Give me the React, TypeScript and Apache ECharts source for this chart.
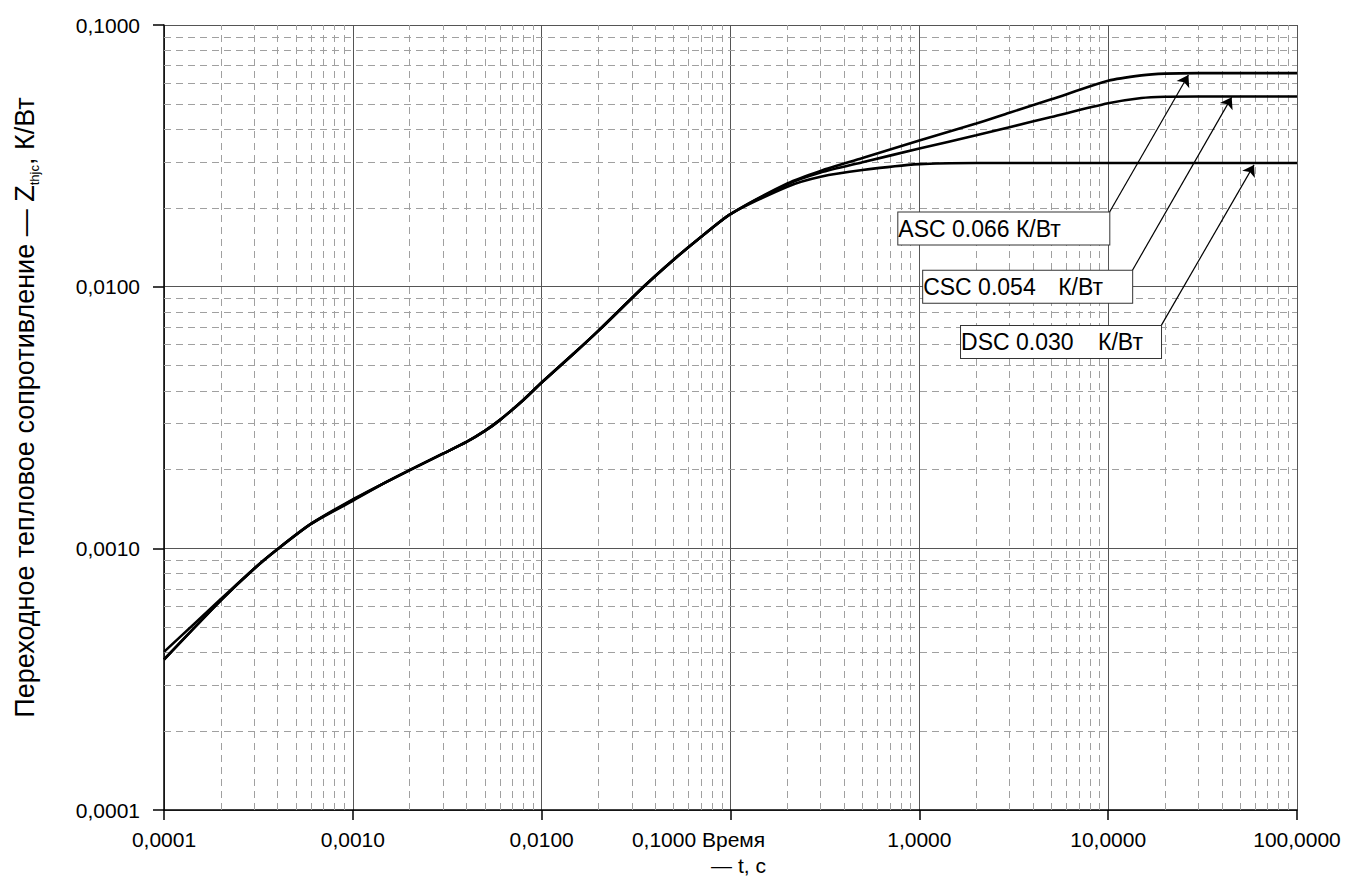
import React, { useEffect, useRef } from "react";
import * as echarts from "echarts";

// ---- Data ----
const T = [0.0001, 0.0002, 0.0003, 0.0004, 0.0006, 0.001, 0.0015, 0.002, 0.003, 0.004, 0.005, 0.006, 0.008, 0.01, 0.015, 0.02, 0.035, 0.05, 0.07, 0.1, 0.2, 0.3, 0.5, 1, 2, 3, 5, 10, 15, 20, 30, 50, 100];
const ASC = [0.000376, 0.000633, 0.000836, 0.000994, 0.00124, 0.00152, 0.00179, 0.00199, 0.0023, 0.00255, 0.00281, 0.00309, 0.00369, 0.0043, 0.0056, 0.00679, 0.01006, 0.01268, 0.01552, 0.01895, 0.0248, 0.0277, 0.031, 0.0362, 0.042, 0.0462, 0.052, 0.0612, 0.0642, 0.0652, 0.0655, 0.0655, 0.0655];
const CSC = [0.000376, 0.000633, 0.000836, 0.000994, 0.00124, 0.00153, 0.00179, 0.00199, 0.0023, 0.00255, 0.00281, 0.00309, 0.00369, 0.0043, 0.0056, 0.00679, 0.01006, 0.01268, 0.01552, 0.01895, 0.0246, 0.0273, 0.0299, 0.0337, 0.0379, 0.0407, 0.0445, 0.0502, 0.0526, 0.0532, 0.0533, 0.0533, 0.0533];
const DSC = [0.000402, 0.00064, 0.000836, 0.000994, 0.00124, 0.00154, 0.00179, 0.00199, 0.0023, 0.00255, 0.00281, 0.00309, 0.00369, 0.0043, 0.0056, 0.00679, 0.01006, 0.01268, 0.01552, 0.01895, 0.0241, 0.0263, 0.0279, 0.0294, 0.0297, 0.0297, 0.0297, 0.0297, 0.0297, 0.0297, 0.0297, 0.0297, 0.0297];

const X_TICK_LABELS = ["0,0001", "0,0010", "0,0100", "0,1000 Время", "1,0000", "10,0000", "100,0000"];
const Y_TICK_LABELS = ["0,0001", "0,0010", "0,0100", "0,1000"];

// Annotations: label, tail (box top-right corner) t/Z, arrow tip t/Z
const ANN_NAMES = ["ASC 0.066 К/Вт", "CSC 0.054", "DSC 0.030"];
const ANN_UNITS = ["", "К/Вт", "К/Вт"];
const ANN_TAIL_T = [10.14, 13.4, 19.05];
const ANN_TAIL_Z = [0.0192, 0.0115, 0.00708];
const ANN_TIP_T = [26.6, 45.1, 59.2];
const ANN_TIP_Z = [0.0644, 0.053, 0.0292];

const X_MIN = 0.0001;
const X_MAX = 100;
const Y_MIN = 0.0001;
const Y_MAX = 0.1;

const FONT = '"Liberation Sans", Arial, sans-serif';

function minorValues(lo: number, hi: number): number[] {
  const out: number[] = [];
  for (let e = lo; e < hi; e++) {
    for (let m = 2; m <= 9; m++) out.push(Number((m * Math.pow(10, e)).toPrecision(6)));
  }
  return out;
}

export default function App() {
  const ref = useRef<HTMLDivElement>(null);
  useEffect(() => {
    if (!ref.current) return;
    const chart = echarts.init(ref.current, null, { renderer: "svg" });
    const mk = (v: number[]) => v.map((z, i) => [T[i], z]);
    const curve = (name: string, vals: number[]) => ({
      name,
      type: "line",
      data: mk(vals),
      showSymbol: false,
      smooth: 0.25,
      z: 5,
      lineStyle: { color: "#000", width: 2.6 },
      silent: true,
    });
    const minorStyle = { color: "#a0a0a0", width: 1, type: [7, 5] };
    const boxWidths = [211, 209, 200];
    const nameWidths = [211, 135, 137];
    const option: any = {
      animation: false,
      grid: { left: 164, right: 50, top: 25, bottom: 83, containLabel: false },
      xAxis: {
        type: "log",
        logBase: 10,
        min: X_MIN,
        max: X_MAX,
        axisLine: { show: true, onZero: false, lineStyle: { color: "#000", width: 1.5 } },
        axisTick: { show: true, length: 10, lineStyle: { color: "#000", width: 1.5 } },
        axisLabel: {
          margin: 19,
          fontSize: 21,
          color: "#000",
          fontFamily: FONT,
          formatter: (v: number) => {
            const i = Math.round(Math.log10(v)) + 4;
            const s = X_TICK_LABELS[i] ?? "";
            return i === 3 ? "{sh|" + s + "}" : s;
          },
          rich: { sh: { fontSize: 21, fontFamily: FONT, color: "#000", padding: [0, 64, 0, 0] } },
        },
        splitLine: { show: true, lineStyle: { color: "#555", width: 1 } },
        name: "— t, с",
        nameLocation: "middle",
        nameGap: 45,
        nameTextStyle: { fontSize: 21, color: "#000", fontFamily: FONT, padding: [0, 0, 0, 16] },
      },
      yAxis: {
        type: "log",
        logBase: 10,
        min: Y_MIN,
        max: Y_MAX,
        axisLine: { show: true, onZero: false, lineStyle: { color: "#000", width: 1.5 } },
        axisTick: { show: true, length: 11, lineStyle: { color: "#000", width: 1.5 } },
        axisLabel: {
          margin: 24,
          fontSize: 21,
          color: "#000",
          fontFamily: FONT,
          formatter: (v: number) => Y_TICK_LABELS[Math.round(Math.log10(v)) + 4] ?? "",
        },
        splitLine: { show: true, lineStyle: { color: "#555", width: 1 } },
        name: "Переходное тепловое сопротивление — Z{sub|thjc}, К/Вт",
        nameLocation: "middle",
        nameGap: 123,
        nameTextStyle: {
          fontSize: 27,
          color: "#000",
          fontFamily: FONT,
          lineHeight: 33,
          padding: [0, 0, 0, 20],
          rich: { sub: { fontSize: 13, fontFamily: FONT, color: "#000", verticalAlign: "bottom", lineHeight: 13 } },
        },
      },
      series: [
        {
          type: "line",
          data: [],
          silent: true,
          z: 1,
          markLine: {
            silent: true,
            z: 1,
            symbol: ["none", "none"],
            label: { show: false },
            lineStyle: minorStyle,
            emphasis: { disabled: true },
            data: [
              ...minorValues(-4, 2).map((v) => [{ coord: [v, Y_MIN] }, { coord: [v, Y_MAX] }]),
              ...minorValues(-4, -1).map((v) => [{ coord: [X_MIN, v] }, { coord: [X_MAX, v] }]),
            ],
          },
        },
        curve("ASC", ASC),
        curve("CSC", CSC),
        curve("DSC", DSC),
        {
          type: "line",
          data: [],
          silent: true,
          z: 8,
          markLine: {
            silent: true,
            z: 8,
            symbol: ["none", "arrow"],
            symbolSize: 11,
            label: { show: false },
            emphasis: { disabled: true },
            lineStyle: { color: "#000", width: 1.2, type: "solid" },
            itemStyle: { color: "#000" },
            data: ANN_NAMES.map((_, i) => [
              { coord: [ANN_TAIL_T[i], ANN_TAIL_Z[i]] },
              { coord: [ANN_TIP_T[i], ANN_TIP_Z[i]] },
            ]),
          },
          markPoint: {
            silent: true,
            z: 9,
            symbol: "circle",
            symbolSize: 0,
            itemStyle: { color: "transparent" },
            data: ANN_NAMES.map((n, i) => ({
              coord: [ANN_TAIL_T[i], ANN_TAIL_Z[i]],
              label: {
                show: true,
                position: "left",
                distance: 0,
                offset: [-boxWidths[i], 16],
                width: boxWidths[i],
                height: 32,
                lineHeight: 32,
                padding: 0,
                align: "left",
                verticalAlign: "middle",
                backgroundColor: "#fff",
                borderColor: "#333",
                borderWidth: 1,
                color: "#000",
                fontSize: 23,
                fontFamily: FONT,
                formatter: ANN_UNITS[i] ? "{a|" + n + "}{b|" + ANN_UNITS[i] + "}" : n,
                rich: {
                  a: { width: nameWidths[i], fontSize: 23, fontFamily: FONT, color: "#000" },
                  b: { fontSize: 23, fontFamily: FONT, color: "#000" },
                },
              },
            })),
          },
        },
      ],
    };
    chart.setOption(option);
    return () => chart.dispose();
  }, []);
  return <div ref={ref} style={{ position: "absolute", left: 0, top: 0, width: 1347, height: 893 }} />;
}
